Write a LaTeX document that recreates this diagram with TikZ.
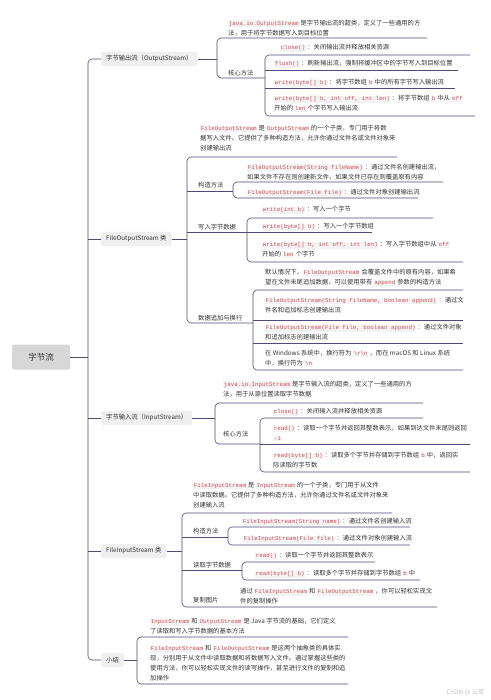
\documentclass[tikz,border=0pt]{standalone}
\usepackage{fontspec}
\setmainfont{Noto Sans CJK SC}
\setmonofont{Liberation Mono}
\definecolor{lnc}{HTML}{4E4B7C}
\definecolor{txt}{HTML}{333333}
\definecolor{codefg}{HTML}{D2505C}
\definecolor{codebg}{HTML}{F3F3F3}
\definecolor{boxbg}{HTML}{EFEFEF}
\newcommand\cd[1]{{\setlength\fboxsep{0.7pt}\colorbox{codebg}{\ttfamily\fontsize{5.8}{6}\selectfont\color{codefg}#1}}}
\newcommand\bs{\textbackslash}

\begin{document}
\begin{tikzpicture}[x=1pt,y=-1pt,
    every node/.style={text=txt,font=\fontsize{6.3}{10}\selectfont},
    leaf/.style={anchor=west,align=left,inner sep=0pt},
    topic/.style={anchor=west,fill=boxbg,rounded corners=2pt,inner xsep=5pt,minimum height=14pt},
    link/.style={draw=lnc,line width=0.6pt},
    brace/.style={link,rounded corners=4pt}]
    \fill[white] (0,0) rectangle (490,700);
    \useasboundingbox (0,0) rectangle (490,700);

    % root and main topics
    \node[fill=boxbg!90!black,rounded corners=2pt,minimum width=58pt,minimum height=25pt,font=\fontsize{8.5}{10}\selectfont] (root) at (41,357) {字节流};
    \node[topic] (out) at (101,59) {字节输出流（OutputStream）};
    \node[topic] (fos) at (101,239) {FileOutputStream 类};
    \node[topic] (in) at (101,418) {字节输入流（InputStream）};
    \node[topic] (fis) at (101,551) {FileInputStream 类};
    \node[topic] (sum) at (101,660) {小结};
    \draw[link] (root.east) -- (88,357);
    \draw[brace] (out.west) -- (88,59) -- (88,660) -- (sum.west);
    \foreach \t in {fos,in,fis} {\draw[link] (88,0 |- \t.west) -- (\t.west);}

    % OutputStream
    \node[leaf] (o1) at (228,28) {\cd{java.io.OutputStream} 是字节输出流的超类，定义了一些通用的方\\法，用于将字节数据写入到目标位置};
    \node[leaf] (o2) at (228,73) {核心方法};
    \node[leaf] (o21) at (280,48) {\cd{close()} ：关闭输出流并释放相关资源};
    \node[leaf] (o22) at (274,64) {\cd{flush()} ：刷新输出流，强制将缓冲区中的字节写入到目标位置};
    \node[leaf] (o23) at (274,83) {\cd{write(byte[] b)} ：将字节数组 \cd{b} 中的所有字节写入输出流};
    \node[leaf] (o24) at (274,103.5) {\cd{write(byte[] b, int off, int len)} ：将字节数组 \cd{b} 中从 \cd{off}\\开始的 \cd{len} 个字节写入输出流};
    \draw[link] (out.east) -- (217,59);
    \draw[brace] (427,38) -- (217,38) -- (217,78) -- (265,78);
    \draw[brace] (470,55) -- (265,55) -- (265,116) -- (475,116);
    \foreach \y/\r in {70/458,88/455} {\draw[link] (265,\y) -- (\r,\y);}

    % FileOutputStream
    \node[leaf] (f1) at (200,138) {\cd{FileOutputStream} 是 \cd{OutputStream} 的一个子类，专门用于将数\\据写入文件。它提供了多种构造方法，允许你通过文件名或文件对象来\\创建输出流};
    \node[leaf] (f2) at (198,185) {构造方法};
    \node[leaf] (f21) at (247,172) {\cd{FileOutputStream(String fileName)} ：通过文件名创建输出流，\\如果文件不存在则创建新文件，如果文件已存在则覆盖原有内容};
    \node[leaf] (f22) at (247,193) {\cd{FileOutputStream(File file)} ：通过文件对象创建输出流};
    \node[leaf] (f3) at (198,227) {写入字节数据};
    \node[leaf] (f31) at (262,210) {\cd{write(int b)} ：写入一个字节};
    \node[leaf] (f32) at (262,227) {\cd{write(byte[] b)} ：写入一个字节数组};
    \node[leaf] (f33) at (262,249.5) {\cd{write(byte[] b, int off, int len)} ：写入字节数组中从 \cd{off}\\开始的 \cd{len} 个字节};
    \node[leaf] (f4) at (198,318) {数据追加与换行};
    \node[leaf] (f41) at (265,278) {默认情况下，\cd{FileOutputStream} 会覆盖文件中的原有内容，如果希\\望在文件末尾追加数据，可以使用带有 \cd{append} 参数的构造方法};
    \node[leaf] (f42) at (265,305) {\cd{FileOutputStream(String fileName, boolean append)} ：通过文\\件名和追加标志创建输出流};
    \node[leaf] (f43) at (265,332.5) {\cd{FileOutputStream(File file, boolean append)} ：通过文件对象\\和追加标志创建输出流};
    \node[leaf] (f44) at (265,358.5) {在 Windows 系统中，换行符为 \cd{\bs r\bs n} ，而在 macOS 和 Linux 系统\\中，换行符为 \cd{\bs n}};
    \draw[link] (fos.east) -- (187,239);
    \draw[brace] (397,157) -- (187,157) -- (187,323) -- (253,323);
    \foreach \y/\r in {191/233,232/372} {\draw[link] (187,\y) -- (\r,\y);}
    \draw[brace] (443,182) -- (233,182) -- (233,198) -- (418,198);
    \draw[brace] (433,218) -- (247,218) -- (247,262) -- (463,262);
    \draw[brace] (463,290) -- (253,290) -- (253,370) -- (463,370);
    \foreach \y in {320,343} {\draw[link] (253,\y) -- (463,\y);}

    % InputStream
    \node[leaf] (i1) at (223,389) {\cd{java.io.InputStream} 是字节输入流的超类，定义了一些通用的方\\法，用于从源位置读取字节数据};
    \node[leaf] (i2) at (223,434) {核心方法};
    \node[leaf] (i21) at (273,412) {\cd{close()} ：关闭输入流并释放相关资源};
    \node[leaf] (i22) at (273,433) {\cd{read()} ：读取一个字节并返回其整数表示，如果到达文件末尾则返回\\\cd{-1}};
    \node[leaf] (i23) at (273,460) {\cd{read(byte[] b)} ：读取多个字节并存储到字节数组 \cd{b} 中，返回实\\际读取的字节数};
    \draw[link] (in.east) -- (215,418);
    \draw[brace] (423,403) -- (215,403) -- (215,444) -- (260,444);
    \draw[brace] (423,418) -- (260,418) -- (260,472) -- (470,472);
    \draw[link] (260,444) -- (470,444);

    % FileInputStream
    \node[leaf] (j1) at (193,495) {\cd{FileInputStream} 是 \cd{InputStream} 的一个子类，专门用于从文件\\中读取数据。它提供了多种构造方法，允许你通过文件名或文件对象来\\创建输入流};
    \node[leaf] (j2) at (193,531) {构造方法};
    \node[leaf] (j21) at (242,522) {\cd{FileInputStream(String name)} ：通过文件名创建输入流};
    \node[leaf] (j22) at (243,539) {\cd{FileInputStream(File file)} ：通过文件对象创建输入流};
    \node[leaf] (j3) at (193,565) {读取字节数据};
    \node[leaf] (j31) at (255,556) {\cd{read()} ：读取一个字节并返回其整数表示};
    \node[leaf] (j32) at (255,574) {\cd{read(byte[] b)} ：读取多个字节并存储到字节数组 \cd{b} 中};
    \node[leaf] (j4) at (193,600) {复制图片};
    \node[leaf] (j41) at (240,596.5) {通过 \cd{FileInputStream} 和 \cd{FileOutputStream} ，你可以轻松实现文\\件的复制操作};
    \draw[link] (fis.east) -- (182,551);
    \draw[brace] (392,513) -- (182,513) -- (182,607) -- (437,607);
    \foreach \y/\r in {537/228,570/242} {\draw[link] (182,\y) -- (\r,\y);}
    \draw[brace] (410,527) -- (228,527) -- (228,545) -- (410,545);
    \draw[brace] (375,562) -- (242,562) -- (242,580) -- (420,580);

    % summary
    \node[leaf] (s1) at (150,626.5) {\cd{InputStream} 和 \cd{OutputStream} 是 Java 字节流的基础，它们定义\\了读取和写入字节数据的基本方法};
    \node[leaf] (s2) at (150,663.5) {\cd{FileInputStream} 和 \cd{FileOutputStream} 是这两个抽象类的具体实\\现，分别用于从文件中读取数据和将数据写入文件。通过掌握这些类的\\使用方法，你可以轻松实现文件的读写操作，甚至进行文件的复制和追\\加操作};
    \draw[link] (sum.east) -- (137,660);
    \draw[brace] (348,637) -- (137,637) -- (137,684) -- (348,684);

    \node[text=gray!45,anchor=east] (mark) at (488,692) {CSDN @ 云草};
\end{tikzpicture}
\end{document}
